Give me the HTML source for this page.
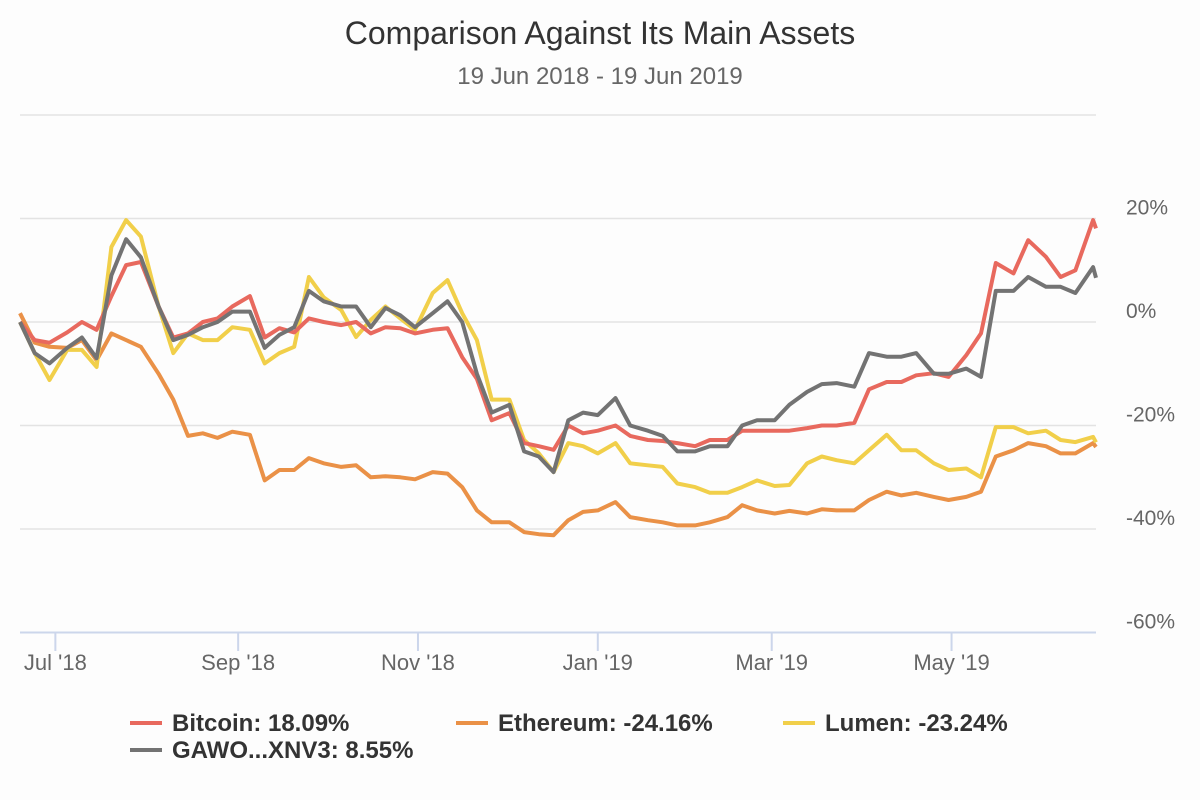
<!DOCTYPE html>
<html><head><meta charset="utf-8"><style>
body{margin:0;background:#fdfdfd;font-family:"Liberation Sans",sans-serif}
svg{display:block}
</style></head><body>
<svg id="chart" width="1200" height="800" xmlns="http://www.w3.org/2000/svg">
<rect width="1200" height="800" fill="#fdfdfd"/>
<text x="600" y="44" text-anchor="middle" font-size="32" fill="#333">Comparison Against Its Main Assets</text>
<text x="600" y="84" text-anchor="middle" font-size="24" fill="#666">19 Jun 2018 - 19 Jun 2019</text>
<g id="grid"></g><g id="series"></g><g id="xaxis"></g><g id="legend"></g>
</svg>
<script>
const days=[0,5,10,16,21,26,31,36,41,47,52,57,62,67,72,78,83,88,93,98,103,109,114,119,124,129,134,140,145,150,155,160,166,171,176,181,
186,191,196,202,207,213,218,223,229,234,240,245,250,256,261,267,272,277,283,288,294,299,304,310,315,321,326,331,337,342,348,353,358,364,365];
const bitcoin=[0,-3.5,-4,-2,0,-1.5,5,11,11.6,3,-3,-2.2,0,0.7,3,5,-3,-1.2,-2,0.7,0,-0.6,0,-2.2,-1,-1.2,-2.2,-1.5,-1.2,-6.8,-11,-19,-17.6,-23.4,-24,-24.7,
-20,-21.5,-21,-20,-22,-22.8,-23,-23.4,-24,-22.8,-22.8,-21,-21,-21,-21,-20.5,-20,-20,-19.5,-13,-11.6,-11.6,-10.3,-9.9,-10.6,-6.4,-2.2,11.4,9.4,15.8,12.6,8.7,10,19.7,18.09];
const ethereum=[1.7,-4,-4.8,-5,-3.5,-7.4,-2.2,-3.5,-4.8,-10,-15,-22,-21.5,-22.4,-21.2,-21.8,-30.6,-28.6,-28.6,-26.3,-27.3,-28,-27.7,-30,-29.8,-30,-30.4,-29,-29.3,-31.9,-36.4,-38.7,-38.7,-40.6,-41,-41.2,
-38.3,-36.7,-36.4,-34.8,-37.7,-38.3,-38.7,-39.3,-39.3,-38.7,-37.7,-35.4,-36.4,-37,-36.5,-37,-36.2,-36.4,-36.4,-34.4,-32.8,-33.5,-33,-33.8,-34.4,-33.8,-32.8,-26,-24.8,-23.4,-24,-25.4,-25.4,-23.4,-24.16];
const lumen=[0,-6,-11.2,-5.4,-5.4,-8.7,14.5,19.7,16.5,3,-6,-2.2,-3.5,-3.5,-1,-1.5,-8,-6,-4.8,8.7,4.8,2.3,-2.9,0.4,3,0.7,-1.5,5.6,8.1,1.7,-3.5,-15,-15,-22.8,-25.4,-29,
-23.4,-24,-25.4,-23.4,-27.3,-27.7,-28,-31.2,-31.9,-33,-33,-31.9,-30.6,-31.7,-31.5,-27.3,-26,-26.7,-27.3,-24.8,-21.8,-24.8,-24.8,-27.3,-28.6,-28.3,-30,-20.3,-20.3,-21.5,-21,-22.8,-23.2,-22.2,-23.24];
const gawo=[0,-6,-8,-5,-3,-7,9,16,12.5,3,-3.5,-2.5,-1,0,2,2,-5,-2.5,-1,6,4,3,3,-1,2.7,1.3,-1,1.7,4,0,-10,-17.5,-16,-25,-26,-29,
-19,-17.5,-18,-14.7,-20,-21,-22,-25,-25,-24,-24,-20,-19,-19,-16,-13.5,-12,-11.8,-12.5,-6,-6.7,-6.7,-6,-10,-10,-9,-10.6,6,6,8.7,6.8,6.8,5.6,10.6,8.55];
const yTicks=[40,20,0,-20,-40,-60];
const yTickLabels=["","20%","0%","-20%","-40%","-60%"];
const xTickDays=[12,74,135,196,255,316];
const xTickLabels=["Jul '18","Sep '18","Nov '18","Jan '19","Mar '19","May '19"];
const seriesNames=["Bitcoin: 18.09%","Ethereum: -24.16%","Lumen: -23.24%","GAWO...XNV3: 8.55%"];
const seriesColors=["#e8695e","#ea9147","#f1cf4a","#737373"];

const NS="http://www.w3.org/2000/svg";
const X0=20,X1=1096;
const xs=d=>X0+(X1-X0)*d/365;
const ys=v=>322-v*5.175;
function mk(tag,attrs,parent){const e=document.createElementNS(NS,tag);for(const k in attrs)e.setAttribute(k,attrs[k]);parent.appendChild(e);return e;}
const grid=document.getElementById('grid');
yTicks.forEach((t,i)=>{
  const l=mk('line',{x1:X0,x2:X1,y1:ys(t),y2:ys(t),stroke:t===-60?'#ccd6eb':'#e3e3e3','stroke-width':t===-60?2:1.5},grid);
  
  
  if(yTickLabels[i]){const tx=mk('text',{x:1126,y:ys(t)-4,'font-size':21,fill:'#666'},grid);tx.textContent=yTickLabels[i];
  
  }
});
const xa=document.getElementById('xaxis');
xTickDays.forEach((d,i)=>{
  const l=mk('line',{x1:xs(d),x2:xs(d),y1:633,y2:651,stroke:'#ccd6eb','stroke-width':2},xa);
  
  
  const tx=mk('text',{x:xs(d),y:670,'text-anchor':'middle','font-size':22,fill:'#666'},xa);tx.textContent=xTickLabels[i];
  
  
});
const sg=document.getElementById('series');
[ethereum,lumen,bitcoin,gawo].forEach((arr,k)=>{
  const idx=[1,2,0,3][k];
  const pts=arr.map((v,i)=>xs(days[i]).toFixed(1)+','+ys(v).toFixed(1)).join(' ');
  const p=mk('polyline',{points:pts,fill:'none',stroke:seriesColors[idx],'stroke-width':4,'stroke-linejoin':'round'},sg);
  
  
});
const lg=document.getElementById('legend');
const pos=[[130,723],[456,723],[783,723],[130,750]];
seriesNames.forEach((n,i)=>{
  const g=mk('g',{},lg);
  
  
  mk('line',{x1:pos[i][0],x2:pos[i][0]+32,y1:pos[i][1],y2:pos[i][1],stroke:seriesColors[i],'stroke-width':4},g);
  const t=mk('text',{x:pos[i][0]+42,y:pos[i][1]+8,'font-size':24,'font-weight':'bold',fill:'#333'},g);t.textContent=n;
});
</script>
</body></html>
